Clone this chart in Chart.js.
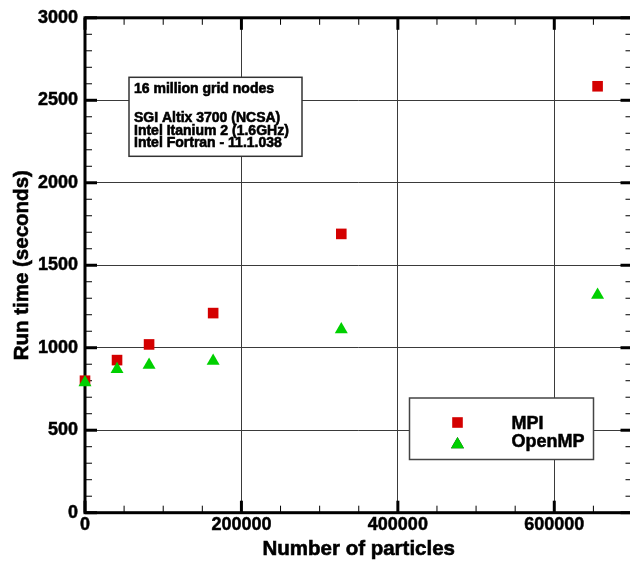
<!DOCTYPE html>
<html>
<head>
<meta charset="utf-8">
<script src="https://cdn.jsdelivr.net/npm/chart.js@4"></script>
<style>
  html, body { margin: 0; padding: 0; background: #fff; overflow: hidden; }
  canvas { display: block; }
</style>
</head>
<body>
<canvas id="runChart" width="640" height="562"></canvas>
<script>
// particle counts and run times (seconds)
const particles = [0, 40960, 81920, 163840, 327680, 655360];
const mpiTime = [800, 925, 1020, 1210, 1690, 2585];
const openmpTime = [790, 870, 895, 920, 1110, 1320];

const xTickValues = [0, 200000, 400000, 600000];
const yTickValues = [0, 500, 1000, 1500, 2000, 2500, 3000];
const xMinor = 50000, yMinor = 100;

const xTitle = "Number of particles";
const yTitle = "Run time (seconds)";
const infoLines = [
  "16 million grid nodes",
  "",
  "SGI Altix 3700 (NCSA)",
  "Intel Itanium 2 (1.6GHz)",
  "Intel Fortran - 11.1.038"
];

const FONT = "'Liberation Sans', Arial, Helvetica, sans-serif";

function toPoints(ys) {
  return particles.map((x, i) => ({ x: x, y: ys[i] }));
}

function boldText(ctx, text, x, y, stroke) {
  ctx.fillText(text, x, y);
  ctx.lineWidth = stroke;
  ctx.strokeText(text, x, y);
}

// frame with inward ticks on all four sides, titles and boxes
const framePlugin = {
  id: "frame",
  beforeDatasetsDraw(chart) {
    const { ctx, chartArea: a, scales } = chart;
    const xs = scales.x, ys = scales.y;
    ctx.save();
    ctx.strokeStyle = "#000";
    ctx.lineCap = "butt";

    function tick(x1, y1, x2, y2, w) {
      ctx.lineWidth = w;
      ctx.beginPath();
      ctx.moveTo(x1, y1);
      ctx.lineTo(x2, y2);
      ctx.stroke();
    }

    for (let v = ys.min; v <= ys.max; v += yMinor) {
      const py = ys.getPixelForValue(v);
      const major = yTickValues.includes(v);
      const len = major ? 12 : 7;
      const w = major ? 3 : 1;
      tick(a.left, py, a.left + len, py, w);
      tick(a.right, py, a.right - len, py, w);
    }
    for (let v = xs.min; v <= xs.max; v += xMinor) {
      const px = xs.getPixelForValue(v);
      const major = xTickValues.includes(v);
      const len = major ? 12 : 7;
      const w = major ? 3 : 1;
      tick(px, a.bottom, px, a.bottom - len, w);
      tick(px, a.top, px, a.top + len, w);
    }

    ctx.lineWidth = 3;
    ctx.strokeRect(a.left, a.top, a.right - a.left, a.bottom - a.top);

    // axis titles
    ctx.fillStyle = "#000";
    ctx.strokeStyle = "#000";
    ctx.textBaseline = "middle";
    ctx.textAlign = "center";
    ctx.font = "bold 20.5px " + FONT;
    boldText(ctx, xTitle, (a.left + a.right) / 2, 549, 0.6);
    ctx.save();
    ctx.translate(22, (a.top + a.bottom) / 2);
    ctx.rotate(-Math.PI / 2);
    boldText(ctx, yTitle, 0, 0, 0.6);
    ctx.restore();
    ctx.restore();
  },
  afterDatasetsDraw(chart) {
    const { ctx, chartArea: a } = chart;
    ctx.save();

    // info box
    const bx = a.left + 44, by = a.top + 59.5, bw = 173, bh = 79;
    ctx.fillStyle = "#fff";
    ctx.fillRect(bx, by, bw, bh);
    ctx.strokeStyle = "#333";
    ctx.lineWidth = 1.5;
    ctx.strokeRect(bx, by, bw, bh);
    ctx.fillStyle = "#000";
    ctx.strokeStyle = "#000";
    ctx.font = "bold 14px " + FONT;
    ctx.textBaseline = "alphabetic";
    const lineY = [92.5, 0, 122, 134.5, 147];
    infoLines.forEach((t, i) => {
      if (t) boldText(ctx, t, bx + 5, lineY[i], 0.6);
    });

    // legend box
    const lx = 409.5, ly = 398, lw = 184, lh = 61.5;
    ctx.fillStyle = "#fff";
    ctx.fillRect(lx, ly, lw, lh);
    ctx.strokeStyle = "#444";
    ctx.lineWidth = 1.5;
    ctx.strokeRect(lx, ly, lw, lh);

    const rows = [
      { ds: chart.data.datasets[0], y: 422.5, ty: 429 },
      { ds: chart.data.datasets[1], y: 444.5, ty: 447 }
    ];
    ctx.font = "bold 18px " + FONT;
    rows.forEach(r => {
      Chart.helpers.drawPoint(ctx, {
        pointStyle: r.ds.pointStyle,
        radius: r.ds.pointRadius,
        borderWidth: 0
      }, lx + 48, r.y);
      ctx.fillStyle = r.ds.backgroundColor;
      ctx.fill();
      ctx.fillStyle = "#000";
      ctx.strokeStyle = "#000";
      boldText(ctx, r.ds.label, lx + 102, r.ty, 0.5);
    });
    ctx.restore();
  }
};

const tickFont = { family: FONT, size: 18, weight: "bold" };

const ctx = document.getElementById("runChart").getContext("2d");
new Chart(ctx, {
  type: "scatter",
  data: {
    datasets: [
      {
        label: "MPI",
        data: toPoints(mpiTime),
        pointStyle: "rect",
        pointRadius: 7.5,
        pointBorderWidth: 0,
        backgroundColor: "#d40000",
        borderColor: "#d40000",
        order: 2,
        clip: false
      },
      {
        label: "OpenMP",
        data: toPoints(openmpTime),
        pointStyle: "triangle",
        pointRadius: 7.5,
        pointBorderWidth: 0,
        backgroundColor: "#00d000",
        borderColor: "#00d000",
        order: 1,
        clip: false
      }
    ]
  },
  options: {
    responsive: false,
    animation: false,
    events: [],
    layout: { padding: { top: 16, right: 5.5, left: 0, bottom: 0 } },
    plugins: {
      legend: { display: false },
      tooltip: { enabled: false }
    },
    scales: {
      x: {
        type: "linear",
        min: 0,
        max: 700000,
        afterFit: s => { s.height = 49.3; },
        afterBuildTicks: s => { s.ticks = xTickValues.map(v => ({ value: v })); },
        border: { display: false },
        grid: { color: "#3a3a3a", lineWidth: 1, drawTicks: false },
        ticks: {
          padding: 2,
          color: "#000",
          maxRotation: 0,
          autoSkip: false,
          textStrokeColor: "#000",
          textStrokeWidth: 0.5,
          font: tickFont,
          callback: v => String(v)
        }
      },
      y: {
        min: 0,
        max: 3000,
        afterFit: s => { s.width = 85; },
        afterBuildTicks: s => { s.ticks = yTickValues.map(v => ({ value: v })); },
        border: { display: false },
        grid: { color: "#3a3a3a", lineWidth: 1, drawTicks: false },
        ticks: {
          padding: 7,
          color: "#000",
          autoSkip: false,
          textStrokeColor: "#000",
          textStrokeWidth: 0.5,
          font: tickFont,
          callback: v => String(v)
        }
      }
    }
  },
  plugins: [framePlugin]
});
</script>
</body>
</html>
